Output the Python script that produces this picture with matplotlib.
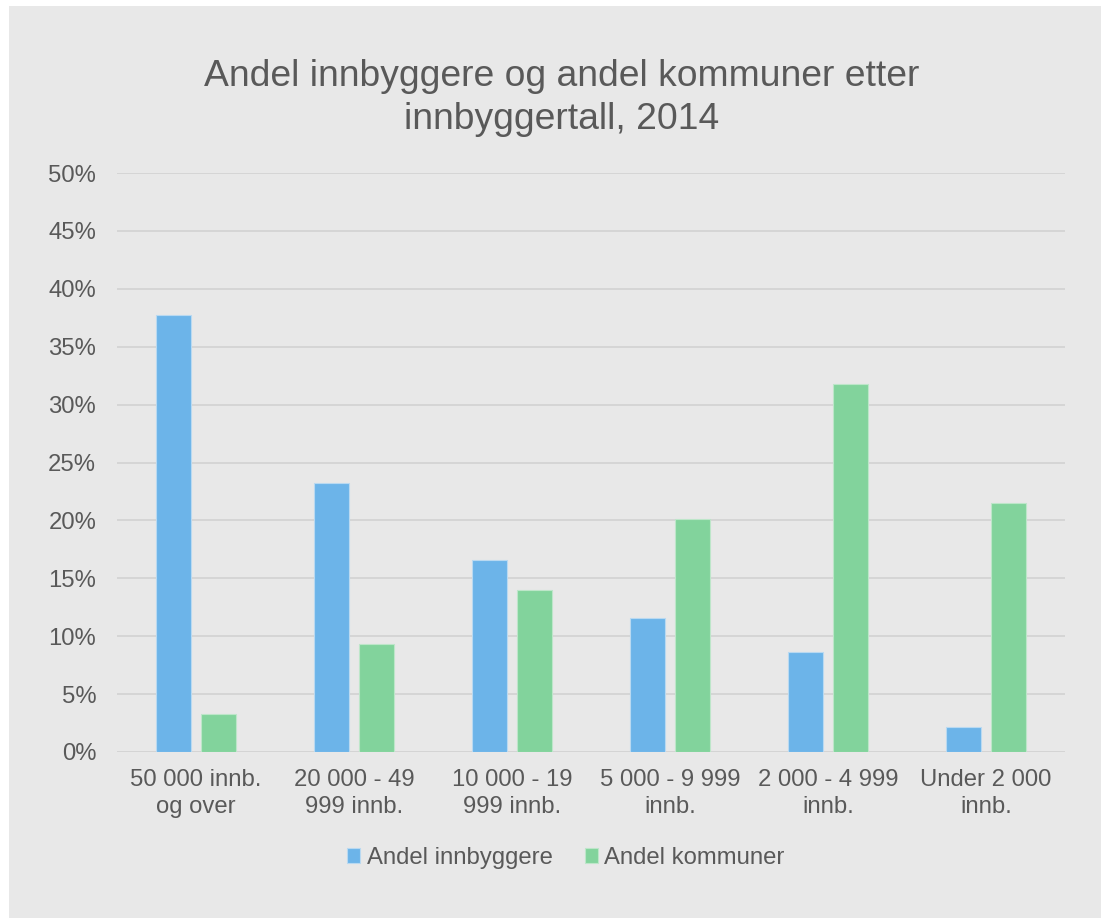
import matplotlib
matplotlib.use("Agg")
import matplotlib.pyplot as plt
from matplotlib.patches import Rectangle
import numpy as np

categories = ["50 000 innb.\nog over", "20 000 - 49\n999 innb.", "10 000 - 19\n999 innb.",
              "5 000 - 9 999\ninnb.", "2 000 - 4 999\ninnb.", "Under 2 000\ninnb."]
andel_innbyggere = [37.7, 23.2, 16.6, 11.6, 8.6, 2.2]
andel_kommuner = [3.3, 9.3, 14.0, 20.1, 31.8, 21.5]
yticks = [0, 5, 10, 15, 20, 25, 30, 35, 40, 45, 50]
ytick_labels = [f"{t}%" for t in yticks]

plt.rcParams['font.family'] = ['Liberation Sans', 'DejaVu Sans']
bg = "#e8e8e8"
txt = "#595959"

fig = plt.figure(figsize=(11.01, 9.18), dpi=100, facecolor="white")
fig.patches.append(Rectangle((9 / 1101, 0), 1 - 9 / 1101, 1 - 6 / 918,
                             transform=fig.transFigure, facecolor=bg, edgecolor="none", zorder=-10))

ax = fig.add_axes([117 / 1101, 1 - 752 / 918, (1065 - 117) / 1101, (752 - 173) / 918])
ax.set_facecolor(bg)
x = np.arange(len(categories))
w = 0.222
off = 0.142
ax.bar(x - off, andel_innbyggere, w, color="#6cb4e9", edgecolor="#b9d9f1", linewidth=0.8,
       label="Andel innbyggere", zorder=3)
ax.bar(x + off, andel_kommuner, w, color="#82d39c", edgecolor="#bde6c9", linewidth=0.8,
       label="Andel kommuner", zorder=3)

ax.set_xlim(-0.5, len(categories) - 0.5)
ax.set_ylim(0, 50)
ax.set_yticks(yticks)
ax.set_yticklabels(ytick_labels)
ax.set_xticks(x)
ax.set_xticklabels(categories, linespacing=1.32)
ax.tick_params(axis='both', length=0, labelsize=17.2, labelcolor=txt)
ax.tick_params(axis='y', pad=15)
ax.tick_params(axis='x', pad=12)
ax.grid(axis='y', color="#d4d4d4", linewidth=1.3, zorder=0)
for s in ax.spines.values():
    s.set_visible(False)
ax.axhline(0, color="#d4d4d4", linewidth=1.3, zorder=1)

fig.text(562 / 1101, 1 - 98 / 918, "Andel innbyggere og andel kommuner etter\ninnbyggertall, 2014",
         ha="center", va="center", fontsize=26.8, color=txt, linespacing=1.3)

leg = fig.legend(loc="center", bbox_to_anchor=(566 / 1101, 1 - 858 / 918), ncol=2, frameon=False,
                 fontsize=17.2, handlelength=0.55, handleheight=0.55, handletextpad=0.28, columnspacing=1.33)
for t in leg.get_texts():
    t.set_color(txt)

fig.savefig("out.png", dpi=100, facecolor="white")
